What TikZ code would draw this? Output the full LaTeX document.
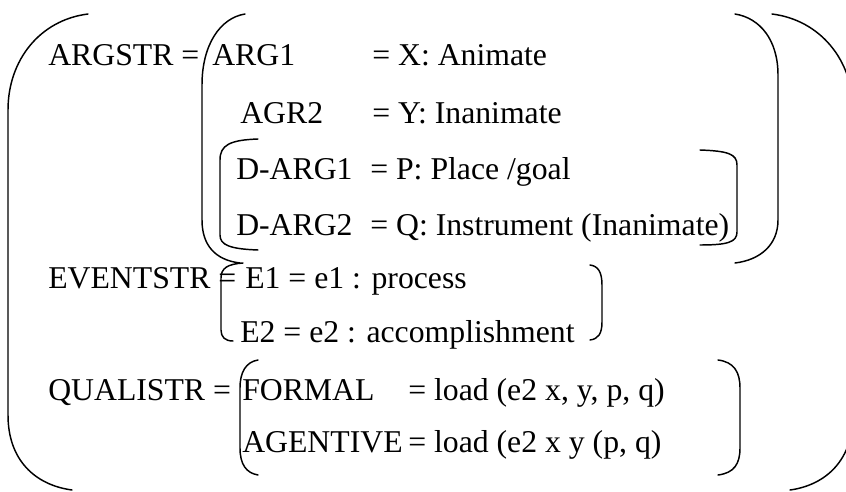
\documentclass[tikz,border=0pt]{standalone}
\usepackage{fontspec}
\setmainfont{Liberation Serif}
\usepackage{tikz}
\usetikzlibrary{positioning}

\begin{document}
\begin{tikzpicture}[
  x=0.75pt,y=-0.75pt,
  lbl/.style={anchor=base west,inner sep=0pt,font=\fontsize{23.8pt}{28pt}\selectfont},
  brk/.style={line width=1.1pt,line cap=round}
]
\useasboundingbox (0,0) rectangle (846,492);
\clip (0,0) rectangle (846,492);
% feature names and values
\node[lbl] (argstr) at (48,66) {ARGSTR =};
\node[lbl] (arga) at (212,66) {ARG1};
\node[lbl] (arga-val) at (372,66) {= X: Animate};
\node[lbl] (argb) at (240,123) {AGR2};
\node[lbl] (argb-val) at (372,123) {= Y: Inanimate};
\node[lbl] (darga) at (236,179) {D-ARG1};
\node[lbl] (darga-val) at (370,179) {= P: Place /goal};
\node[lbl] (dargb) at (236,235) {D-ARG2};
\node[lbl] (dargb-val) at (370,235) {= Q: Instrument (Inanimate)};
\node[lbl] (eventstr) at (48,288) {EVENTSTR =};
\node[lbl] (evta) at (245,288) {E1 = e1 : process};
\node[lbl] (evtb) at (240,342) {E2 = e2 : accomplishment};
\node[lbl] (qualistr) at (48,400) {QUALISTR =};
\node[lbl] (formal) at (242,400) {FORMAL};
\node[lbl] (formal-val) at (408,400) {= load (e2 x, y, p, q)};
\node[lbl] (agentive) at (242,452) {AGENTIVE};
\node[lbl] (agentive-val) at (408,452) {= load (e2 x y (p, q)};
% outer parentheses
\draw[brk] (88,14) .. controls (40,20) and (8,60) .. (8,110) -- (8,415) .. controls (8,460) and (35,485) .. (72,490);
\draw[brk] (772,14) .. controls (820,20) and (853,60) .. (853,110) -- (853,415) .. controls (853,460) and (826,485) .. (790,490);
% argstr
\draw[brk] (245,14) .. controls (220,18) and (202,45) .. (202,85) -- (202,220) .. controls (202,245) and (215,260) .. (240,263);
\draw[brk] (735,14) .. controls (760,18) and (778,40) .. (778,75) -- (778,220) .. controls (778,245) and (760,260) .. (735,263);
% default arguments
\draw[brk] (258,139) .. controls (230,140) and (220,145) .. (220,160) -- (220,235) .. controls (220,245) and (230,249) .. (258,250);
\draw[brk] (700,150) .. controls (728,151) and (737,154) .. (737,165) -- (737,232) .. controls (737,242) and (728,245) .. (700,245);
% eventstr
\draw[brk] (243,263) .. controls (228,264) and (221,268) .. (221,278) -- (221,330) .. controls (221,337) and (225,341) .. (233,341);
\draw[brk] (590,265) .. controls (598,266) and (602,272) .. (602,285) -- (602,322) .. controls (602,334) and (598,339) .. (590,340);
% qualistr
\draw[brk] (258,360) .. controls (246,362) and (240,372) .. (240,388) -- (240,448) .. controls (240,464) and (246,473) .. (258,475);
\draw[brk] (718,360) .. controls (734,362) and (740,372) .. (740,388) -- (740,448) .. controls (740,464) and (734,473) .. (718,475);
\end{tikzpicture}
\end{document}
